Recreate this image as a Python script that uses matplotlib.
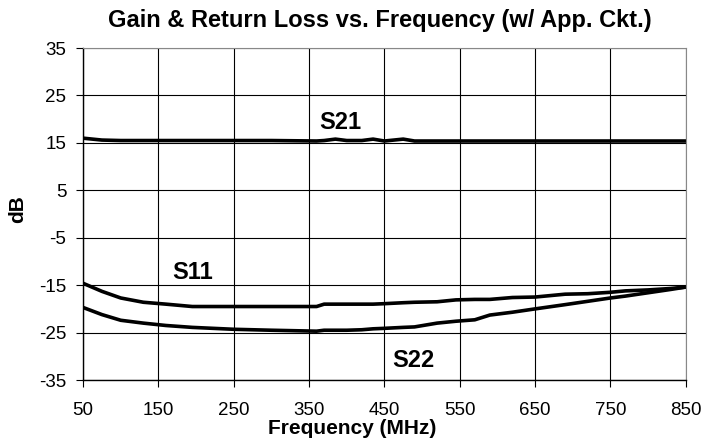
import numpy as np
import matplotlib.pyplot as plt

plt.rcParams['font.family'] = ['Liberation Sans', 'DejaVu Sans']
plt.rcParams['axes.unicode_minus'] = False

freq = [50, 75, 100, 130, 160, 195, 250, 300, 360, 370, 385, 400, 420, 435, 450, 475, 490,
        520, 545, 570, 590, 620, 650, 690, 720, 750, 770, 800, 830, 850]

s21 = [16.0, 15.6, 15.5, 15.5, 15.5, 15.5, 15.5, 15.5, 15.4, 15.5, 15.8, 15.5, 15.5, 15.8, 15.4, 15.8, 15.4,
       15.4, 15.4, 15.4, 15.4, 15.4, 15.4, 15.4, 15.4, 15.4, 15.4, 15.4, 15.4, 15.4]

s11 = [-14.6, -16.3, -17.7, -18.6, -19.0, -19.5, -19.5, -19.5, -19.5, -19.0, -19.0, -19.0, -19.0, -19.0, -18.9, -18.7, -18.6,
       -18.5, -18.1, -18.0, -18.0, -17.6, -17.5, -16.9, -16.8, -16.5, -16.2, -16.0, -15.7, -15.4]

s22 = [-19.7, -21.2, -22.4, -23.0, -23.5, -23.9, -24.3, -24.5, -24.7, -24.5, -24.5, -24.5, -24.4, -24.2, -24.1, -23.9, -23.8,
       -23.0, -22.6, -22.3, -21.3, -20.7, -20.0, -19.1, -18.4, -17.7, -17.3, -16.6, -15.9, -15.4]

xticks = [50, 150, 250, 350, 450, 550, 650, 750, 850]
yticks = [35, 25, 15, 5, -5, -15, -25, -35]

fig = plt.figure(figsize=(7.04, 4.45), dpi=100)
ax = fig.add_axes([0.118, 0.146, 0.856, 0.746])

for y in (s21, s11, s22):
    ax.plot(freq, y, color='black', lw=2.6, solid_joinstyle='round')

ax.set_xlim(50, 850)
ax.set_ylim(-35, 35)
ax.set_xticks(xticks)
ax.set_yticks(yticks)
ax.grid(True, color='black', lw=0.8)
ax.tick_params(direction='out', length=5, width=0.8, labelsize=13.5)
ax.tick_params(axis='x', pad=11)
ax.tick_params(axis='y', pad=7)
for side in ('top', 'right'):
    ax.spines[side].set_color('#888888')
for side in ('left', 'bottom'):
    ax.spines[side].set_linewidth(1.0)

ax.set_title('Gain & Return Loss vs. Frequency (w/ App. Ckt.)',
             fontsize=17, fontweight='bold', pad=15, x=0.4925)
ax.set_xlabel('Frequency (MHz)', fontsize=15, fontweight='bold')
ax.xaxis.set_label_coords(0.446, -0.117)
ax.set_ylabel('dB', fontsize=15, fontweight='bold')
ax.yaxis.set_label_coords(-0.093, 0.515)

ax.text(391, 17.9, 'S21', fontsize=17, fontweight='bold', ha='center', va='baseline')
ax.text(195, -13.6, 'S11', fontsize=17, fontweight='bold', ha='center', va='baseline')
ax.text(489, -32.3, 'S22', fontsize=17, fontweight='bold', ha='center', va='baseline')

fig.savefig('out.png', dpi=100)
